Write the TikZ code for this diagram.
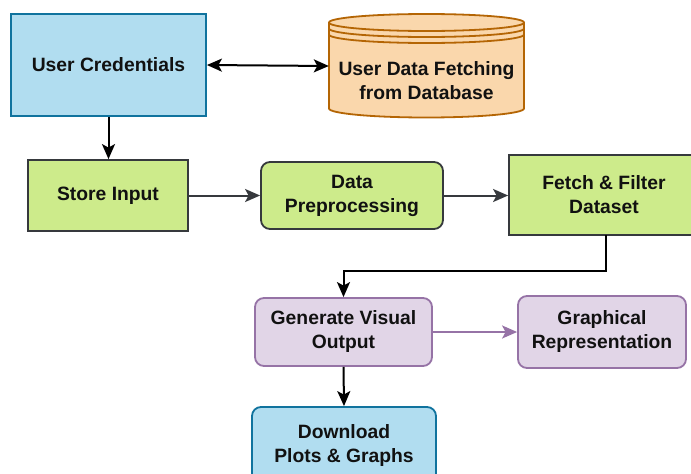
\documentclass[tikz,border=0pt]{standalone}
\usepackage{fontspec}
\setmainfont{Liberation Sans}
\usetikzlibrary{arrows.meta}
\definecolor{bluefill}{HTML}{B1DDF0}
\definecolor{bluedraw}{HTML}{10739E}
\definecolor{greenfill}{HTML}{CDEB8B}
\definecolor{greendraw}{HTML}{36393D}
\definecolor{orangefill}{HTML}{FAD7AC}
\definecolor{orangedraw}{HTML}{B46504}
\definecolor{purplefill}{HTML}{E1D5E7}
\definecolor{purpledraw}{HTML}{9673A6}
\definecolor{txt}{HTML}{111111}
\tikzset{
  arrowtip/.tip={Stealth[length=15pt,width=13pt,inset=3.5pt]},
  box/.style={draw, line width=1.8pt, inner sep=0pt, align=center, text=txt,
    font=\fontsize{19.3}{24}\selectfont\bfseries},
  bluebox/.style={box, fill=bluefill, draw=bluedraw},
  greenbox/.style={box, fill=greenfill, draw=greendraw},
  purplebox/.style={box, fill=purplefill, draw=purpledraw, rounded corners=9pt},
  conn/.style={line width=2pt, -arrowtip},
}
\begin{document}
\begin{tikzpicture}[x=1pt,y=-1pt]
\useasboundingbox (0,0) rectangle (691,474);
\fill[white] (0,0) rectangle (691,474);
\begin{scope}
\clip (0,0) rectangle (691,474);
% nodes
\node[bluebox, minimum width=195pt, minimum height=102pt] (uc) at (108.5,65) {User Credentials};
% database cylinder
\filldraw[fill=orangefill, draw=orangedraw, line width=1.8pt]
  (329,22.5) -- (329,108.5) arc[start angle=180, end angle=0, x radius=97.5, y radius=9]
  -- (524,22.5) arc[start angle=0, end angle=-180, x radius=97.5, y radius=8.5] -- cycle;
\draw[orangedraw, line width=1.8pt] (329,22.5) arc[start angle=180, end angle=0, x radius=97.5, y radius=8.5];
\draw[orangedraw, line width=1.8pt] (329,28.5) arc[start angle=180, end angle=0, x radius=97.5, y radius=8.5];
\draw[orangedraw, line width=1.8pt] (329,34.5) arc[start angle=180, end angle=0, x radius=97.5, y radius=8.5];
\node[inner sep=0pt, minimum width=195pt, minimum height=104pt] (db) at (426.5,66) {};
\node[box, draw=none, fill=none] (dbt) at (426.5,81) {User Data Fetching\\from Database};

\node[greenbox, minimum width=160pt, minimum height=71pt] (si) at (108,195.5) {Store Input};
\node[box, fill=greenfill, draw=greendraw, rounded corners=9pt, minimum width=182pt, minimum height=67pt] (dp) at (352,195.5) {Data\\Preprocessing};
\node[greenbox, minimum width=190pt, minimum height=80pt] (ff) at (604,195) {Fetch \& Filter\\Dataset};
\node[purplebox, minimum width=177pt, minimum height=68pt] (gv) at (343.5,332) {Generate Visual\\Output};
\node[purplebox, minimum width=168pt, minimum height=72pt] (gr) at (602,332) {Graphical\\Representation};
\node[bluebox, rounded corners=9pt, minimum width=184pt, minimum height=78pt] (dl) at (344,446) {Download\\Plots \& Graphs};
\end{scope}

% connectors
\draw[line width=2pt, arrowtip-arrowtip] (uc.east) -- (db.west);
\draw[conn] (uc.south) -- (si.north -| uc.south);
\draw[conn, greendraw] (si.east) -- (dp.west);
\draw[conn, greendraw] (dp.east) -- (dp.east -| ff.west);
\coordinate (c1) at (606,271);
\draw[conn] (606,235) -- (c1) -| (gv.north);
\draw[conn, purpledraw] (gv.east) -- (gv.east -| gr.west);
\draw[conn] (gv.south) -- (dl.north);
\end{tikzpicture}
\end{document}
